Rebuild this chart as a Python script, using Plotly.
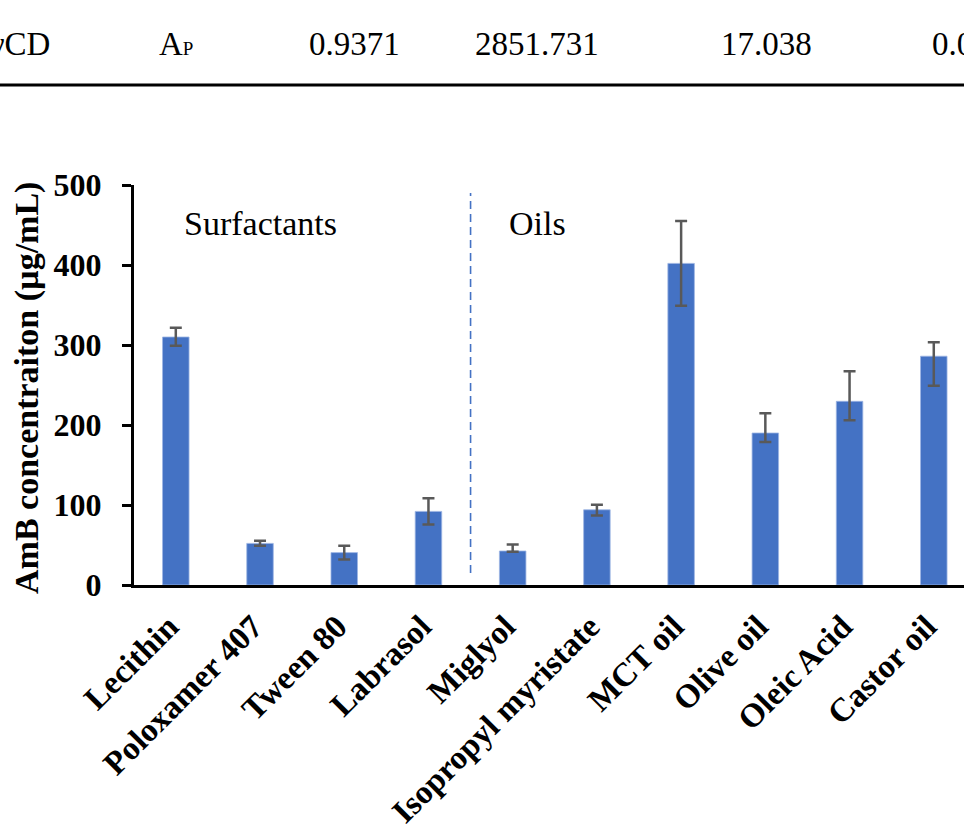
import plotly.graph_objects as go

# Solubility of AmB in surfactants and oils
categories = ["Lecithin", "Poloxamer 407", "Tween 80", "Labrasol", "Miglyol",
              "Isopropyl myristate", "MCT oil", "Olive oil", "Oleic Acid", "Castor oil"]
amb_conc = [310, 52, 40.5, 92, 42.5, 94, 402, 190, 229.6, 286]
err_plus = [11.5, 3.3, 8.5, 16.5, 8, 6.3, 53, 24.6, 37.5, 17.3]
err_minus = [11, 3, 8.5, 16.5, 1, 7, 53, 11.3, 23.7, 37]

# Row of the table printed above the chart
table_cells = ["γCD", "A<span style='font-size:19px'>P</span>", "0.9371", "2851.731", "17.038", "0.0"]
table_x_px = [52, 157, 354, 537, 766, 930]
table_anchor = ["right", "left", "center", "center", "center", "left"]

y_ticks = [0, 100, 200, 300, 400, 500]

SERIF = "Times New Roman, Liberation Serif, serif"
BLUE = "#4472C4"

W, H = 964, 831
L, R, T, B = 134, 0, 185, 246
PW, PH = W - L - R, H - T - B
CAT_STEP = 84.22       # pixel width of one category
FIRST_CENTER = 175.8   # pixel centre of the first bar


def px_x(p):
    return (p - L) / PW


def px_y(p):
    return (H - B - p) / PH


fig = go.Figure()
fig.add_trace(go.Bar(
    x=list(range(len(categories))),
    y=amb_conc,
    width=0.315,
    marker=dict(color=BLUE, line=dict(color="#9DB5E3", width=0.8)),
    error_y=dict(type="data", symmetric=False, array=err_plus, arrayminus=err_minus,
                 color="#595959", thickness=2.5, width=6),
))

# Divider between the surfactant and oil groups
fig.add_shape(type="line", xref="x", yref="y", x0=3.5, x1=3.5, y0=15, y1=490,
              line=dict(color=BLUE, width=1.6, dash="8px,5px"))

fig.add_annotation(x=1, y=452, xref="x", yref="y", text="Surfactants", showarrow=False,
                   font=dict(family=SERIF, size=34, color="black"))
fig.add_annotation(x=4.3, y=452, xref="x", yref="y", text="Oils", showarrow=False,
                   font=dict(family=SERIF, size=34, color="black"))

# Y-axis title
fig.add_annotation(x=px_x(27), y=px_y(388), xref="paper", yref="paper",
                   xanchor="center", yanchor="middle",
                   text="AmB concentraiton (µg/mL)", textangle=-90, showarrow=False,
                   font=dict(family=SERIF, size=34, color="black", weight="bold"))

# Table row and rule above the chart
for txt, xp, anc in zip(table_cells, table_x_px, table_anchor):
    fig.add_annotation(x=px_x(xp), y=px_y(44), xref="paper", yref="paper", text=txt,
                       showarrow=False, xanchor=anc, yanchor="middle",
                       font=dict(family=SERIF, size=33, color="black"))
fig.add_shape(type="line", xref="paper", yref="paper", x0=px_x(-5), x1=px_x(970),
              y0=px_y(85), y1=px_y(85), line=dict(color="black", width=3))

fig.update_layout(
    width=W, height=H,
    margin=dict(l=L, r=R, t=T, b=B, autoexpand=False),
    paper_bgcolor="white", plot_bgcolor="white",
    showlegend=False,
    xaxis=dict(
        range=[(L - FIRST_CENTER) / CAT_STEP, (W - FIRST_CENTER) / CAT_STEP],
        tickmode="array", tickvals=list(range(len(categories))), ticktext=categories,
        tickangle=-45, showline=True, linecolor="black", linewidth=3,
        ticks="", showgrid=False, zeroline=False,
        ticklabelshift=-7, ticklabelstandoff=6,
        tickfont=dict(family=SERIF, size=33, color="black", weight="bold"),
    ),
    yaxis=dict(
        range=[0, 500], tickmode="array", tickvals=y_ticks,
        showline=True, linecolor="black", linewidth=3,
        ticks="outside", ticklen=9, tickwidth=3, tickcolor="black",
        showgrid=False, zeroline=False, ticklabelstandoff=14,
        tickfont=dict(family=SERIF, size=32, color="black", weight="bold"),
    ),
)

fig.write_html("out.html")
